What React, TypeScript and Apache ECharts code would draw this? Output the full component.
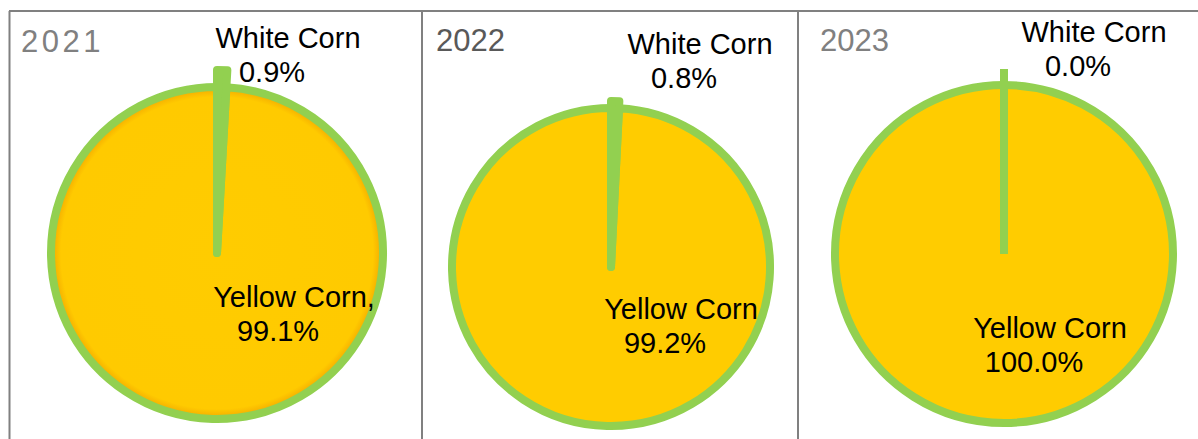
import React, { useEffect, useRef } from "react";
import * as echarts from "echarts";

const years = ["2021", "2022", "2023"];
const whiteLabels = ["White Corn", "White Corn", "White Corn"];
const yellowLabels = ["Yellow Corn,", "Yellow Corn", "Yellow Corn"];
const whiteShare = [0.9, 0.8, 0.0];
const yellowShare = [99.1, 99.2, 100.0];

// layout (pixels)
const centers = [[217, 253], [611, 267], [1004, 254]];
const radii = [166, 159, 169];
const extraR = [17, 7, 16];
const whiteLabelPos = [[288, 55], [700, 61], [1094, 49]];
const yellowLabelPos = [[294, 314], [681, 326], [1050, 345]];
const titlePos = [[21, 26], [436, 25], [820, 25]];
const titleColors = ["#808080", "#595959", "#808080"];

const GREEN = "#92D050";
const YELLOW = "#FFCC00";
const FONT = "'Liberation Sans', Arial, sans-serif";
const FS = 29;

export default function App() {
  const ref = useRef<HTMLDivElement>(null);
  useEffect(() => {
    if (!ref.current) return;
    const chart = echarts.init(ref.current, null, { renderer: "svg" });
    const series: any[] = [];
    years.forEach((y, i) => {
      const yellowColor =
        i === 0
          ? new echarts.graphic.RadialGradient(0.5, 0.5, 0.5, [
              { offset: 0, color: "#FFCC00" },
              { offset: 0.94, color: "#FFCA00" },
              { offset: 1, color: "#F2A800" },
            ])
          : YELLOW;
      series.push({
        type: "pie",
        center: centers[i],
        radius: [0, radii[i]],
        startAngle: 90,
        clockwise: true,
        avoidLabelOverlap: false,
        silent: true,
        labelLine: { show: false },
        label: {
          show: true,
          position: "inside",
          fontFamily: FONT,
          fontSize: FS,
          color: "#000",
          formatter: (p: any) =>
            "{n|" + p.name + "}\n{p|" + p.value.toFixed(1) + "%}",
          rich: {
            n: { fontFamily: FONT, fontSize: FS, lineHeight: 34, color: "#000" },
            p: {
              fontFamily: FONT,
              fontSize: FS,
              lineHeight: 34,
              color: "#000",
              padding: [0, 32, 0, 0],
            },
          },
        },
        labelLayout: (params: any) => {
          const pos = params.dataIndex === 0 ? whiteLabelPos[i] : yellowLabelPos[i];
          return { x: pos[0], y: pos[1], align: "center", verticalAlign: "middle" };
        },
        itemStyle: { borderColor: GREEN, borderWidth: 8, borderJoin: "round" },
        data: [
          { name: whiteLabels[i], value: whiteShare[i], itemStyle: { color: GREEN } },
          { name: yellowLabels[i], value: yellowShare[i], itemStyle: { color: yellowColor } },
        ],
      });
    });
    years.forEach((y, i) => {
      series.push({
        type: "pie",
        center: centers[i],
        radius: [0, radii[i] + extraR[i]],
        startAngle: 90,
        clockwise: true,
        silent: true,
        label: { show: false },
        labelLine: { show: false },
        data: [
          {
            name: whiteLabels[i],
            value: whiteShare[i],
            itemStyle: {
              color: GREEN,
              borderColor: GREEN,
              borderWidth: 8,
              borderJoin: i === 2 ? "miter" : "round",
            },
          },
          {
            name: yellowLabels[i],
            value: yellowShare[i],
            itemStyle: { color: "transparent", borderWidth: 0 },
          },
        ],
      });
    });
    const borders = [
      { x1: 9, y1: 11, x2: 1198, y2: 11 },
      { x1: 9.5, y1: 11, x2: 9.5, y2: 439 },
      { x1: 422, y1: 11, x2: 422, y2: 439 },
      { x1: 798, y1: 11, x2: 798, y2: 439 },
    ];
    chart.setOption({
      animation: false,
      title: years.map((y, i) => ({
        text: i === 0 ? y.split("").map((c) => "{d|" + c + "}").join("") : y,
        left: titlePos[i][0],
        top: titlePos[i][1],
        padding: 0,
        textStyle: {
          fontFamily: FONT,
          fontSize: 31,
          fontWeight: "normal",
          color: titleColors[i],
          rich: {
            d: {
              fontFamily: FONT,
              fontSize: 31,
              color: titleColors[i],
              padding: [0, 3.5, 0, 0],
            },
          },
        },
      })),
      graphic: borders.map((b) => ({
        type: "line",
        silent: true,
        shape: b,
        style: { stroke: "#808080", lineWidth: 2 },
        z: 10,
      })),
      series,
    });
    return () => chart.dispose();
  }, []);
  return (
    <div
      ref={ref}
      style={{ position: "fixed", left: 0, top: 0, width: 1198, height: 439, background: "#fff" }}
    />
  );
}
